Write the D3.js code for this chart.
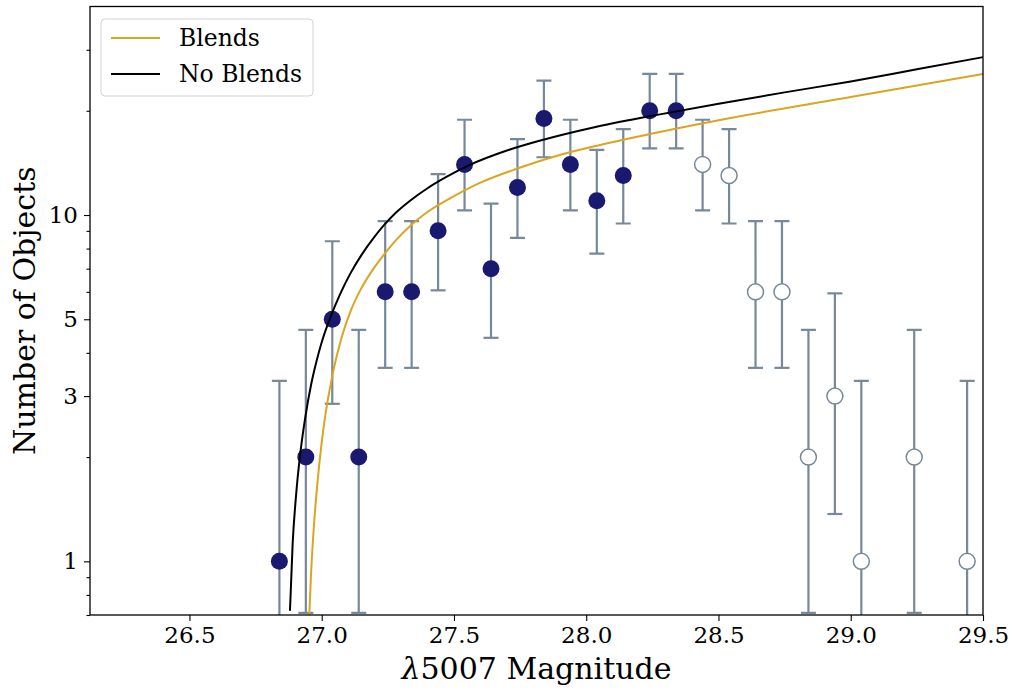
<!DOCTYPE html>
<html><head><meta charset="utf-8">
<script src="https://cdn.jsdelivr.net/npm/d3@7"></script>
<style>body{margin:0;background:#fff}svg{display:block}text{font-family:"DejaVu Serif",serif}</style>
</head><body><svg id="c" width="1013" height="690"></svg>
<script>
// ---- data ----
const filledMag = [26.84,26.94,27.04,27.14,27.24,27.34,27.44,27.54,27.64,27.74,27.84,27.94,28.04,28.14,28.24,28.34];
const filledN   = [1,2,5,2,6,6,9,14,7,12,19,14,11,13,20,20];
const filledLo  = [0.17,0.71,2.85,0.71,3.62,3.62,6.06,10.31,4.42,8.59,14.68,10.31,7.74,9.45,15.57,15.57];
const filledHi  = [3.32,4.66,8.40,4.66,9.60,9.60,13.12,18.84,10.78,16.57,24.44,18.84,15.43,17.71,25.56,25.56];
const openMag = [28.44,28.54,28.64,28.74,28.84,28.94,29.04,29.24,29.44];
const openN   = [14,13,6,6,2,3,1,2,1];
const openLo  = [10.31,9.45,3.62,3.62,0.71,1.37,0.17,0.71,0.17];
const openHi  = [18.84,17.71,9.60,9.60,4.66,5.94,3.32,4.66,3.32];
const blendMag = [26.953,26.96,26.97,26.985,27.006,27.044,27.076,27.11,27.145,27.19,27.233,27.28,27.334,27.4,27.485,27.6,27.737,27.9,28.027,28.25,28.506,29.0,29.5];
const blendN   = [0.70,0.93,1.25,1.72,2.40,3.55,4.45,5.30,6.05,6.90,7.65,8.45,9.30,10.2,11.17,12.4,13.6,14.9,15.76,17.2,18.82,21.9,25.56];
const noBlendMag = [26.880,26.89,26.903,26.92,26.937,26.96,26.981,27.0,27.038,27.07,27.107,27.15,27.2,27.233,27.28,27.334,27.4,27.473,27.56,27.7,27.838,28.027,28.242,28.506,28.75,29.0,29.25,29.5];
const noBlendN   = [0.72,1.12,1.55,2.08,2.58,3.24,3.80,4.29,5.18,5.92,6.75,7.66,8.66,9.3,10.15,11.0,11.95,12.9,13.95,15.35,16.5,17.9,19.3,21.0,22.6,24.3,26.35,28.56];
const xTicks = [26.5,27.0,27.5,28.0,28.5,29.0,29.5];
const yTicks = [1,3,5,10];
const yMinor = [0.7,0.8,0.9,2,4,6,7,8,9,20,30];
const legendLabels = ["Blends","No Blends"];

// ---- layout ----
const W=1013,H=690, L=90, R=983, T=6.5, B=615;
const svg = d3.select("#c");
const x = d3.scaleLinear().domain([26.124,29.5]).range([L,R]);
const y = d3.scaleLog().domain([0.7,40]).range([B,T]);

svg.append("defs").append("clipPath").attr("id","clip")
  .append("rect").attr("x",L).attr("y",T).attr("width",R-L).attr("height",B-T);

const errCol = "#778899", navy = "#191970", gold = "#DAA520";
const gPlot = svg.append("g").attr("clip-path","url(#clip)");

function errorbars(mags, lo, hi){
  const g = gPlot.append("g").attr("stroke",errCol).attr("stroke-width",2.2).attr("fill","none");
  mags.forEach((m,i)=>{
    const yl = lo[i] < 0.7 ? B+5 : y(lo[i]);
    g.append("line").attr("x1",x(m)).attr("x2",x(m)).attr("y1",yl).attr("y2",y(hi[i]));
    g.append("line").attr("x1",x(m)-7.5).attr("x2",x(m)+7.5).attr("y1",y(hi[i])).attr("y2",y(hi[i]));
    if (lo[i] >= 0.7) g.append("line").attr("x1",x(m)-7.5).attr("x2",x(m)+7.5).attr("y1",y(lo[i])).attr("y2",y(lo[i]));
  });
}
errorbars(filledMag, filledLo, filledHi);
errorbars(openMag, openLo, openHi);

gPlot.append("g").selectAll("circle").data(openMag).join("circle")
  .attr("cx",d=>x(d)).attr("cy",(d,i)=>y(openN[i])).attr("r",8)
  .attr("fill","#fff").attr("stroke",errCol).attr("stroke-width",1.5);
gPlot.append("g").selectAll("circle").data(filledMag).join("circle")
  .attr("cx",d=>x(d)).attr("cy",(d,i)=>y(filledN[i])).attr("r",8.5).attr("fill",navy);

const line = d3.line().x(d=>x(d[0])).y(d=>y(d[1])).curve(d3.curveMonotoneX);
gPlot.append("path").datum(blendMag.map((m,i)=>[m,blendN[i]])).attr("d",line)
  .attr("fill","none").attr("stroke",gold).attr("stroke-width",2);
gPlot.append("path").datum(noBlendMag.map((m,i)=>[m,noBlendN[i]])).attr("d",line)
  .attr("fill","none").attr("stroke","#000").attr("stroke-width",2);

// ---- axes ----
const fmtX = d3.format(".1f");
const xAxis = svg.append("g").attr("transform",`translate(0,${B})`)
  .call(d3.axisBottom(x).tickValues(xTicks).tickFormat(fmtX).tickSize(6).tickPadding(6));
const yAxis = svg.append("g").attr("transform",`translate(${L},0)`)
  .call(d3.axisLeft(y).tickValues(yTicks).tickFormat(d3.format("d")).tickSize(6).tickPadding(6));
svg.append("g").attr("transform",`translate(${L},0)`)
  .call(d3.axisLeft(y).tickValues(yMinor).tickFormat("").tickSize(3.5))
  .call(g=>g.select(".domain").remove());
[xAxis,yAxis].forEach(a=>{
  a.selectAll("text").attr("font-family","DejaVu Serif").attr("font-size",23).attr("fill","#000");
  a.select(".domain").remove();
});
svg.selectAll(".tick line").attr("stroke","#000").attr("stroke-width",1.1);
svg.append("rect").attr("x",L).attr("y",T).attr("width",R-L).attr("height",B-T)
  .attr("fill","none").attr("stroke","#000").attr("stroke-width",1.3);

const xl = svg.append("text").attr("x",(L+R)/2).attr("y",679).attr("text-anchor","middle")
  .attr("font-size",30);
xl.append("tspan").attr("font-style","italic").text("λ");
xl.append("tspan").text("5007 Magnitude");
svg.append("text").attr("transform",`translate(35,${(T+B)/2}) rotate(-90)`).attr("text-anchor","middle")
  .attr("font-size",30).text("Number of Objects");

// ---- legend ----
const lg = svg.append("g");
lg.append("rect").attr("x",101).attr("y",19).attr("width",212).attr("height",77).attr("rx",4)
  .attr("fill","#fff").attr("fill-opacity",0.8).attr("stroke","#d3d3d3").attr("stroke-width",1);
[gold,"#000"].forEach((c,i)=>{
  const yy = 38 + i*36;
  lg.append("line").attr("x1",111).attr("x2",160).attr("y1",yy).attr("y2",yy).attr("stroke",c).attr("stroke-width",2);
  lg.append("text").attr("x",179).attr("y",yy+8).attr("font-size",23.5).text(legendLabels[i]);
});
</script></body></html>
